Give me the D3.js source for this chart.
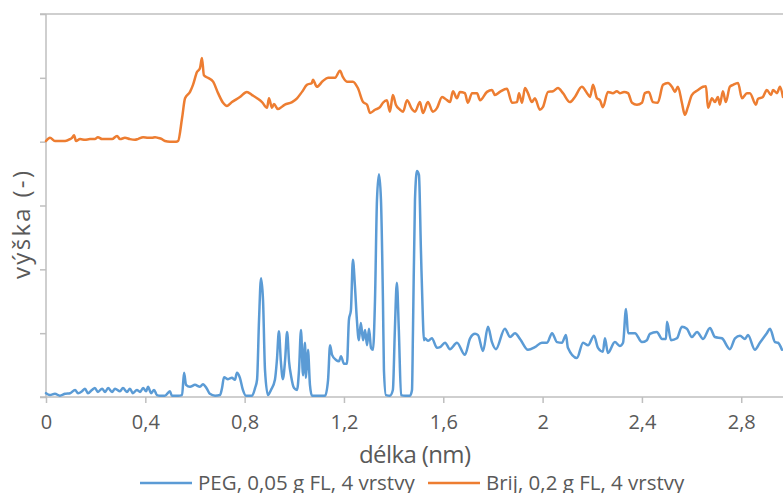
<!DOCTYPE html>
<html><head><meta charset="utf-8">
<script src="https://cdn.jsdelivr.net/npm/d3@7"></script>
<style>
html,body{margin:0;padding:0;background:#fff;}
text{font-family:"Open Sans",Lato,sans-serif;fill:#595959;}
</style></head>
<body>
<svg id="chart" width="783" height="493"></svg>
<script>
const xTicks = [0, 0.4, 0.8, 1.2, 1.6, 2, 2.4, 2.8];
const xTickLabels = ["0", "0,4", "0,8", "1,2", "1,6", "2", "2,4", "2,8"];
const yTicks = [0, 1, 2, 3, 4, 5, 6];
const seriesNames = ["PEG, 0,05 g FL, 4 vrstvy", "Brij, 0,2 g FL, 4 vrstvy"];
const xTitle = "délka (nm)";
const yTitle = "výška (-)";

const pegX = [0.000,0.016,0.036,0.056,0.077,0.097,0.117,0.129,0.145,0.157,0.169,0.185,0.197,0.209,0.226,0.238,0.250,0.266,0.278,0.298,0.310,0.326,0.338,0.350,0.366,0.379,0.391,0.403,0.411,0.423,0.435,0.447,0.459,0.479,0.499,0.507,0.532,0.548,0.556,0.564,0.580,0.600,0.620,0.632,0.648,0.660,0.681,0.701,0.709,0.717,0.733,0.749,0.761,0.769,0.781,0.793,0.805,0.830,0.842,0.850,0.858,0.866,0.874,0.882,0.894,0.906,0.922,0.930,0.938,0.946,0.954,0.963,0.971,0.979,0.987,0.999,1.011,1.019,1.027,1.035,1.043,1.047,1.055,1.063,1.071,1.095,1.124,1.136,1.144,1.152,1.168,1.180,1.188,1.200,1.212,1.220,1.228,1.236,1.244,1.252,1.260,1.268,1.277,1.285,1.293,1.301,1.309,1.317,1.325,1.333,1.341,1.349,1.357,1.361,1.369,1.385,1.397,1.405,1.413,1.421,1.430,1.446,1.466,1.474,1.478,1.486,1.494,1.502,1.510,1.518,1.522,1.526,1.538,1.554,1.575,1.587,1.607,1.627,1.655,1.687,1.708,1.728,1.740,1.760,1.780,1.796,1.812,1.848,1.869,1.889,1.909,1.941,1.969,1.997,2.018,2.038,2.058,2.078,2.094,2.102,2.138,2.163,2.183,2.207,2.223,2.243,2.251,2.263,2.291,2.311,2.324,2.336,2.344,2.372,2.400,2.420,2.432,2.460,2.481,2.497,2.501,2.517,2.541,2.561,2.581,2.601,2.622,2.646,2.674,2.694,2.722,2.754,2.775,2.795,2.815,2.827,2.855,2.875,2.903,2.916,2.936,2.948,2.964];
const pegY = [0.06,0.03,0.05,0.02,0.05,0.06,0.11,0.06,0.09,0.13,0.06,0.11,0.14,0.08,0.13,0.08,0.14,0.08,0.13,0.09,0.14,0.08,0.13,0.06,0.11,0.08,0.14,0.09,0.16,0.06,0.11,0.03,0.02,0.02,0.09,0.02,0.02,0.03,0.38,0.19,0.16,0.19,0.16,0.20,0.13,0.05,0.02,0.03,0.14,0.31,0.28,0.30,0.27,0.38,0.30,0.11,0.02,0.02,0.14,0.27,1.21,1.86,1.52,0.42,0.03,0.11,0.27,0.58,1.03,0.55,0.28,0.58,1.02,0.55,0.33,0.14,0.11,0.42,1.05,0.34,0.85,0.30,0.74,0.19,0.02,0.02,0.02,0.27,0.81,0.66,0.58,0.56,0.64,0.52,0.52,1.21,1.36,2.15,1.75,1.21,0.89,1.16,0.89,1.05,0.81,1.07,0.77,0.74,1.52,3.09,3.49,3.09,1.52,0.42,0.03,0.02,0.11,1.05,1.79,1.05,0.03,0.02,0.02,0.11,1.05,3.09,3.54,3.48,2.30,1.21,0.89,0.92,0.88,0.92,0.77,0.78,0.85,0.75,0.85,0.66,0.92,0.99,0.97,0.72,1.10,0.86,0.75,1.07,0.94,1.00,0.91,0.74,0.78,0.85,0.85,1.00,0.86,0.85,0.97,0.77,0.61,0.85,0.81,0.96,0.77,0.71,0.92,0.69,0.86,0.80,0.85,1.38,1.00,1.00,0.86,0.89,0.99,1.02,0.91,0.91,1.18,0.89,0.92,1.10,1.07,0.94,1.02,0.91,1.08,0.94,0.92,0.75,0.92,0.96,0.91,0.97,0.74,0.85,1.00,1.07,0.86,0.85,0.74];

const brijX = [0.000,0.016,0.036,0.056,0.077,0.097,0.105,0.113,0.121,0.137,0.157,0.177,0.197,0.209,0.226,0.250,0.266,0.286,0.298,0.318,0.338,0.358,0.370,0.391,0.411,0.427,0.439,0.451,0.467,0.479,0.499,0.524,0.532,0.548,0.560,0.580,0.592,0.608,0.620,0.628,0.636,0.652,0.673,0.693,0.713,0.729,0.749,0.781,0.809,0.830,0.850,0.870,0.890,0.898,0.910,0.918,0.934,0.962,0.991,1.011,1.031,1.051,1.071,1.075,1.091,1.115,1.136,1.164,1.184,1.196,1.212,1.236,1.256,1.277,1.293,1.305,1.325,1.345,1.357,1.373,1.385,1.397,1.409,1.426,1.438,1.454,1.474,1.486,1.506,1.518,1.538,1.558,1.575,1.595,1.615,1.627,1.639,1.655,1.667,1.687,1.699,1.716,1.736,1.748,1.776,1.796,1.808,1.828,1.856,1.877,1.897,1.905,1.917,1.929,1.941,1.957,1.969,1.989,2.001,2.022,2.042,2.062,2.082,2.110,2.130,2.158,2.179,2.191,2.203,2.219,2.231,2.243,2.263,2.283,2.299,2.311,2.328,2.344,2.360,2.380,2.400,2.412,2.428,2.444,2.464,2.485,2.505,2.521,2.533,2.545,2.561,2.573,2.585,2.601,2.626,2.646,2.658,2.666,2.682,2.694,2.706,2.714,2.726,2.738,2.754,2.767,2.787,2.803,2.823,2.835,2.859,2.867,2.887,2.903,2.920,2.928,2.944,2.956,2.968];
const brijY = [4.01,4.06,4.01,4.01,4.01,4.04,4.06,4.10,4.01,4.04,4.03,4.04,4.04,4.07,4.04,4.04,4.04,4.09,4.04,4.06,4.04,4.03,4.04,4.07,4.06,4.06,4.07,4.06,4.04,4.01,4.00,4.00,4.01,4.37,4.68,4.78,4.89,5.09,5.15,5.31,5.04,5.00,4.94,4.76,4.61,4.56,4.62,4.70,4.78,4.73,4.68,4.62,4.53,4.68,4.53,4.59,4.51,4.58,4.62,4.68,4.78,4.89,4.92,4.97,4.86,4.95,5.00,5.00,5.11,5.01,4.94,4.94,4.84,4.62,4.58,4.45,4.50,4.54,4.61,4.65,4.47,4.73,4.58,4.50,4.47,4.65,4.51,4.47,4.62,4.45,4.62,4.47,4.53,4.70,4.65,4.62,4.79,4.68,4.78,4.76,4.61,4.76,4.76,4.65,4.78,4.81,4.73,4.78,4.83,4.61,4.62,4.76,4.61,4.84,4.76,4.62,4.68,4.50,4.54,4.78,4.79,4.84,4.76,4.62,4.70,4.86,4.76,4.70,4.89,4.68,4.65,4.54,4.78,4.76,4.79,4.76,4.78,4.76,4.61,4.58,4.61,4.76,4.78,4.62,4.61,4.89,4.92,4.86,4.78,4.86,4.61,4.42,4.54,4.73,4.81,4.86,4.87,4.53,4.68,4.62,4.70,4.58,4.79,4.62,4.86,4.89,4.92,4.68,4.76,4.76,4.58,4.67,4.70,4.81,4.73,4.81,4.76,4.86,4.70];

const colors = ["#5b9bd5", "#ed7d31"];

const W = 783, H = 493;
const svg = d3.select("#chart");
const x = d3.scaleLinear().domain([0, 3]).range([46, 46 + 3 * 248.3]);
const y = d3.scaleLinear().domain([0, 6]).range([397, 14]);
const axisColor = "#bfbfbf";

svg.append("defs").append("clipPath").attr("id", "clip")
  .append("rect").attr("x", 0).attr("y", 0).attr("width", W).attr("height", H);

// top border line
svg.append("line").attr("x1", 40).attr("x2", W).attr("y1", y(6)).attr("y2", y(6))
  .attr("stroke", axisColor).attr("stroke-width", 1.5);

// y axis (ticks only, no labels)
const yAxis = d3.axisLeft(y).tickValues(yTicks).tickSize(6).tickFormat("");
const gy = svg.append("g").attr("transform", "translate(46,0)").call(yAxis);
gy.select(".domain").attr("stroke", axisColor).attr("stroke-width", 1.5).attr("d", `M0,${y(6)}V${y(0)}`);
gy.selectAll(".tick line").attr("stroke", axisColor).attr("stroke-width", 1.5);

// x axis
const xAxis = d3.axisBottom(x).tickValues(xTicks).tickSize(6)
  .tickFormat((d, i) => xTickLabels[i]).tickPadding(12);
const gx = svg.append("g").attr("transform", `translate(0,${y(0)})`).call(xAxis);
gx.select(".domain").attr("stroke", axisColor).attr("stroke-width", 1.5).attr("d", `M40,0H${W}`);
gx.selectAll(".tick line").attr("stroke", axisColor).attr("stroke-width", 1.5);
gx.selectAll(".tick text").style("font-size", "20px").style("fill", "#595959")
  .style("font-family", "'Open Sans', sans-serif");

// lines
const line = d3.line().x(d => x(d[0])).y(d => y(d[1])).curve(d3.curveMonotoneX);
const series = [d3.zip(pegX, pegY), d3.zip(brijX, brijY)];
const gl = svg.append("g").attr("clip-path", "url(#clip)");
series.forEach((s, i) => {
  gl.append("path").datum(s).attr("d", line).attr("fill", "none")
    .attr("stroke", colors[i]).attr("stroke-width", 2.5)
    .attr("stroke-linejoin", "round").attr("stroke-linecap", "round");
});

// titles
svg.append("text").attr("x", 415).attr("y", 463).attr("text-anchor", "middle")
  .attr("textLength", 112).attr("lengthAdjust", "spacing")
  .style("font-size", "24px").text(xTitle);
svg.append("text").attr("transform", "translate(30,225) rotate(-90)")
  .attr("text-anchor", "middle").attr("textLength", 108).attr("lengthAdjust", "spacing")
  .style("font-size", "24px").text(yTitle);

// legend
const legendItems = [{x: 140, tx: 198}, {x: 428, tx: 486}];
legendItems.forEach((it, i) => {
  svg.append("line").attr("x1", it.x).attr("x2", it.x + 52).attr("y1", 483).attr("y2", 483)
    .attr("stroke", colors[i]).attr("stroke-width", 2.5);
  svg.append("text").attr("x", it.tx).attr("y", 490).style("font-size", "20.5px").text(seriesNames[i]);
});
</script>
</body></html>
